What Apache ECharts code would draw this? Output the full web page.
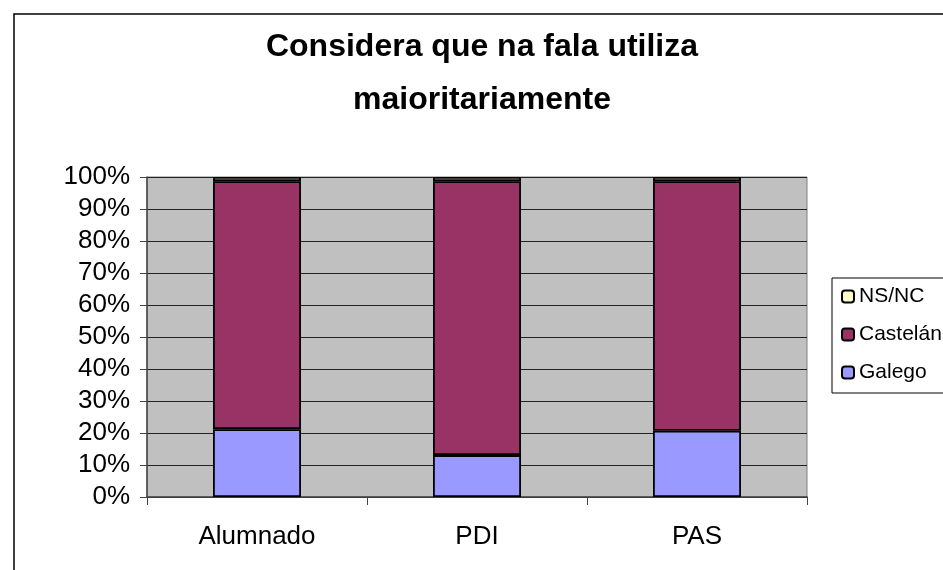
<!DOCTYPE html>
<html>
<head>
<meta charset="utf-8">
<script src="https://cdn.jsdelivr.net/npm/echarts@6/dist/echarts.min.js"></script>
<style>
  html, body { margin: 0; padding: 0; background: #fff; }
  #main { width: 943px; height: 570px; }
</style>
</head>
<body>
<div id="main"></div>
<script>
'use strict'
// categories and stacked shares (%)
var categories = ['Alumnado', 'PDI', 'PAS'];
var galego = [21.2, 13.1, 20.7];
var castelan = [77.5, 85.6, 78.0];
var nsnc = [1.3, 1.3, 1.3];

var font = 'Liberation Sans, Arial, sans-serif';
var barBorder = { borderColor: '#000', borderWidth: 1.8 };

var option = {
    animation: false,
    backgroundColor: '#fff',
    title: {
        text: 'Considera que na fala utiliza\nmaioritariamente',
        left: 477,
        textAlign: 'center',
        top: 16,
        textStyle: {
            fontFamily: font,
            fontSize: 32,
            fontWeight: 'bold',
            color: '#000',
            lineHeight: 53
        }
    },
    legend: {
        orient: 'vertical',
        left: 832,
        top: 278,
        data: ['NS/NC', 'Castelán', 'Galego'],
        itemWidth: 12,
        itemHeight: 12,
        itemGap: 17,
        padding: [8, 20, 10, 9],
        borderColor: '#000',
        borderWidth: 1,
        textStyle: { fontFamily: font, fontSize: 21, color: '#000' }
    },
    grid: {
        left: 147,
        top: 177,
        width: 660,
        height: 320,
        show: true,
        backgroundColor: '#c0c0c0',
        borderColor: '#808080',
        borderWidth: 1
    },
    graphic: [{
        type: 'rect',
        shape: { x: 14, y: 14, width: 1000, height: 600 },
        style: { fill: 'none', stroke: '#000', lineWidth: 1.5 },
        silent: true
    }],
    xAxis: {
        type: 'category',
        data: categories,
        axisLine: { lineStyle: { color: '#444', width: 1.5 } },
        axisTick: { show: true, length: 8, lineStyle: { color: '#444' } },
        axisLabel: { fontFamily: font, fontSize: 26, color: '#000', margin: 27 }
    },
    yAxis: {
        type: 'value',
        min: 0,
        max: 100,
        interval: 10,
        axisLine: { show: true, lineStyle: { color: '#444', width: 1.5 } },
        axisTick: { show: true, length: 7, lineStyle: { color: '#444' } },
        axisLabel: { formatter: '{value}%', fontFamily: font, fontSize: 26, color: '#000', margin: 17 },
        splitLine: { lineStyle: { color: '#222', width: 1 } }
    },
    series: [
        {
            name: 'Galego',
            type: 'bar',
            stack: 'total',
            barWidth: '40%',
            data: galego,
            itemStyle: Object.assign({ color: '#9999ff' }, barBorder)
        },
        {
            name: 'Castelán',
            type: 'bar',
            stack: 'total',
            barWidth: '40%',
            data: castelan,
            itemStyle: Object.assign({ color: '#993366' }, barBorder)
        },
        {
            name: 'NS/NC',
            type: 'bar',
            stack: 'total',
            barWidth: '40%',
            data: nsnc,
            itemStyle: Object.assign({ color: '#ffffcc' }, barBorder)
        }
    ]
};

var myChart = echarts.init(document.getElementById('main'));
myChart.setOption(option);
</script>
</body>
</html>
